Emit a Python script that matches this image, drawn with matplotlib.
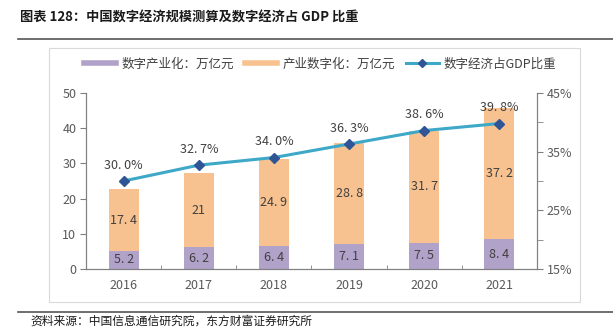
import matplotlib
matplotlib.use('Agg')
import matplotlib.pyplot as plt
from matplotlib.lines import Line2D
from matplotlib.patches import Rectangle

plt.rcParams['font.family'] = ['Noto Sans CJK SC', 'DejaVu Sans']

years = ['2016', '2017', '2018', '2019', '2020', '2021']
industry_digital = [5.2, 6.2, 6.4, 7.1, 7.5, 8.4]       # 数字产业化
digital_industry = [17.4, 21, 24.9, 28.8, 31.7, 37.2]   # 产业数字化
gdp_share = [30.0, 32.7, 34.0, 36.3, 38.6, 39.8]        # 数字经济占GDP比重 (%)

purple = '#B1A2C9'
orange = '#F8C290'
teal = '#3DA8C8'
navy = '#2F5597'
grey = '#595959'

fig = plt.figure(figsize=(6.13, 3.28), dpi=100)

# title and frame lines
fig.text(20 / 613, 1 - 18 / 328, '图表 128：中国数字经济规模测算及数字经济占 GDP 比重',
         fontsize=9.5, fontweight='bold', va='center', ha='left', color='#1a1a1a')
fig.add_artist(Line2D([18 / 613, 1], [1 - 39 / 328] * 2, color='#555555', lw=1.2))
fig.add_artist(Line2D([18 / 613, 1], [1 - 312 / 328] * 2, color='#555555', lw=1.2))
fig.add_artist(Rectangle((49 / 613, 1 - 302 / 328), (580 - 49) / 613, (302 - 48) / 328,
                         fill=False, edgecolor='#d9d9d9', lw=0.8))
fig.text(30 / 613, 1 - 321 / 328, '资料来源：中国信息通信研究院，东方财富证券研究所',
         fontsize=8.5, va='center', ha='left', color='#1a1a1a')

ax = fig.add_axes([86 / 613, 1 - 269 / 328, (537 - 86) / 613, (269 - 93) / 328])
ax2 = ax.twinx()

x = list(range(len(years)))
w = 0.4
ax.bar(x, industry_digital, w, color=purple, zorder=2)
ax.bar(x, digital_industry, w, bottom=industry_digital, color=orange, zorder=2)

for i in x:
    ax.text(i, industry_digital[i] / 2, f'{industry_digital[i]:g}'.replace('.', '. '),
            ha='center', va='center', fontsize=9, color='#404040')
    ax.text(i, industry_digital[i] + digital_industry[i] / 2,
            f'{digital_industry[i]:g}'.replace('.', '. '),
            ha='center', va='center', fontsize=9, color='#404040')

ax.set_xlim(-0.5, len(years) - 0.5)
ax.set_ylim(0, 50)
ax.set_yticks([0, 10, 20, 30, 40, 50])
ax.set_xticks(x)
ax.set_xticklabels(years)
ax.set_xticks([i + 0.5 for i in x[:-1]], minor=True)
ax.tick_params(axis='x', which='major', length=0, pad=7, labelsize=9, labelcolor=grey)
ax.tick_params(axis='x', which='minor', direction='in', length=3, color='#808080')
ax.tick_params(axis='y', direction='out', length=4, color='#808080', labelsize=9,
               labelcolor=grey, pad=3)

ax2.plot(x, gdp_share, color=teal, lw=2.2, marker='D', markersize=5,
         markerfacecolor=navy, markeredgecolor=navy, zorder=3)
for i in x:
    ax2.text(i, gdp_share[i] + 1.6, f'{gdp_share[i]:.1f}%'.replace('.', '. '),
             ha='center', va='bottom', fontsize=9, color='#404040')
ax2.set_ylim(15, 45)
ax2.set_yticks([15, 25, 35, 45])
ax2.set_yticklabels(['15%', '25%', '35%', '45%'])
ax2.set_yticks([20, 30, 40], minor=True)
ax2.tick_params(axis='y', which='both', direction='out', length=4, color='#808080',
                labelsize=9, labelcolor=grey, pad=3)

for a in (ax, ax2):
    a.spines['top'].set_visible(False)
    for s in ('left', 'right', 'bottom'):
        a.spines[s].set_color('#808080')
ax.set_zorder(ax2.get_zorder() - 1)
ax2.patch.set_visible(False)
ax.patch.set_visible(False)

handles = [
    Line2D([], [], color=purple, lw=4),
    Line2D([], [], color=orange, lw=4),
    Line2D([], [], color=teal, lw=2.2, marker='D', markersize=4,
           markerfacecolor=navy, markeredgecolor=navy),
]
labels = ['数字产业化：万亿元', '产业数字化：万亿元', '数字经济占GDP比重']
fig.legend(handles, labels, loc='center', bbox_to_anchor=(320 / 613, 1 - 64 / 328), ncol=3,
           frameon=False, fontsize=9, handlelength=2.6, handletextpad=0.4,
           columnspacing=0.9, labelcolor='#404040')

fig.savefig('out.png', dpi=100)
